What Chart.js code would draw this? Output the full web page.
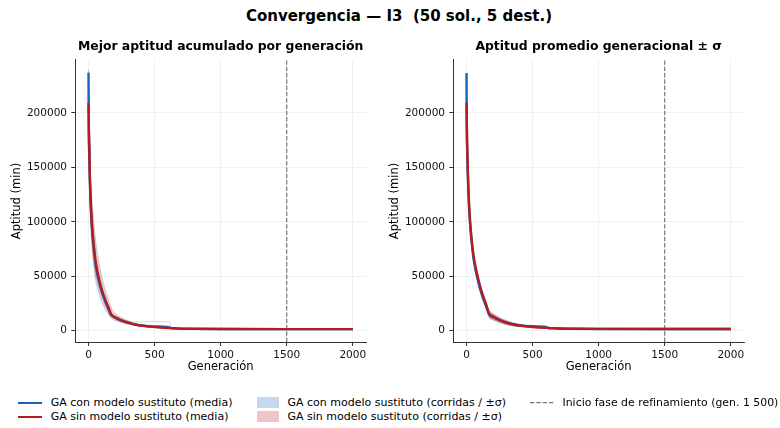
<!DOCTYPE html>
<html lang="es">
<head>
<meta charset="utf-8">
<script src="https://cdn.jsdelivr.net/npm/chart.js@4.4.1/dist/chart.umd.min.js"></script>
<style>
  html, body { margin: 0; padding: 0; background: #fff; }
  body { width: 780px; height: 428px; position: relative; overflow: hidden;
         font-family: "DejaVu Sans", sans-serif; color: #000; }
  #suptitle { position: absolute; left: 0; width: 798px; top: 6px; line-height: 20px;
              text-align: center; font-weight: bold; font-size: 15px; white-space: pre; }
  .panel { position: absolute; top: 0; }
  #leftPanel { left: 0; }
  #rightPanel { left: 378px; }
  .legText { position: absolute; font-size: 11px; line-height: 14px; white-space: nowrap; }
  .sw { position: absolute; }
</style>
</head>
<body>
<div id="suptitle">Convergencia — I3  (50 sol., 5 dest.)</div>
<canvas id="leftPanel" class="panel" width="390" height="380"></canvas>
<canvas id="rightPanel" class="panel" width="390" height="380"></canvas>

<!-- leyenda común -->
<div class="sw" style="left:18px;top:401.7px;width:24px;height:2px;background:#1565C0"></div>
<div class="legText" style="left:50.7px;top:395.7px">GA con modelo sustituto (media)</div>
<div class="sw" style="left:18px;top:415.7px;width:24px;height:2px;background:#B71C1C"></div>
<div class="legText" style="left:50.7px;top:409.7px">GA sin modelo sustituto (media)</div>

<div class="sw" style="left:257px;top:397.2px;width:22px;height:11px;background:rgba(21,101,192,0.25)"></div>
<div class="legText" style="left:287.5px;top:395.7px">GA con modelo sustituto (corridas / ±σ)</div>
<div class="sw" style="left:257px;top:411.2px;width:22px;height:11px;background:rgba(183,28,28,0.25)"></div>
<div class="legText" style="left:287.5px;top:409.7px">GA sin modelo sustituto (corridas / ±σ)</div>

<svg class="sw" style="left:530px;top:398px" width="24" height="10">
  <line x1="0" y1="4.7" x2="24" y2="4.7" stroke="#777" stroke-width="1.2" stroke-dasharray="4.4 1.9"/>
</svg>
<div class="legText" style="left:562.5px;top:395.7px;font-size:10.9px">Inicio fase de refinamiento (gen. 1 500)</div>

<script>
const FONT = '"DejaVu Sans", sans-serif';

// generaciones en las que se leen las curvas medias
const GENS = [0, 2, 5, 10, 15, 20, 30, 40, 50, 60, 75, 100, 125, 150, 170, 200, 250, 300, 350, 400, 500, 600, 620, 650, 700, 800, 1000, 1500, 2000];

// mejor aptitud acumulada (media de corridas)
const BLUE_BEST = [236800, 186000, 163000, 138000, 120000, 106000, 88000, 75000, 64000, 56000, 47000, 35500, 27000, 20000, 14500, 12000, 9300, 7200, 5800, 4800, 3900, 3400, 2300, 2100, 1850, 1650, 1500, 1420, 1380];
const RED_BEST  = [209000, 190000, 168000, 142000, 124000, 110000, 91000, 78000, 67000, 59000, 50000, 38000, 29000, 21500, 15500, 12500, 9500, 7300, 5700, 4600, 3300, 2500, 2400, 2200, 1900, 1700, 1550, 1450, 1400];

// aptitud promedio generacional (media) y desviación
const BLUE_AVG = [236600, 188000, 166000, 143000, 125000, 111000, 93000, 80000, 69000, 61000, 52000, 39500, 30000, 22000, 15000, 12500, 9600, 7400, 5900, 4900, 4000, 3500, 2400, 2200, 1950, 1750, 1600, 1520, 1480];
const RED_AVG  = [209500, 192000, 171000, 147000, 129000, 115000, 96000, 83000, 72000, 64000, 55000, 42000, 32000, 23500, 16000, 13000, 9800, 7500, 5800, 4700, 3400, 2600, 2500, 2300, 2000, 1800, 1650, 1550, 1500];
const BLUE_SD  = [1500, 3000, 4000, 4500, 4800, 5000, 5000, 4800, 4600, 4400, 4200, 4000, 3800, 3600, 3400, 3000, 2600, 2200, 1800, 1500, 1200, 1000, 300, 200, 150, 120, 100, 80, 80];
const RED_SD   = [1200, 3000, 4000, 4500, 4800, 5000, 5200, 5000, 4800, 4600, 4400, 4200, 4000, 3800, 3600, 3200, 2700, 2200, 1700, 1300, 900, 600, 500, 300, 200, 150, 100, 80, 80];

// corridas individuales (mejor acumulado)
const RUN_GENS = [0, 5, 10, 20, 30, 45, 60, 80, 100, 125, 150, 175, 200, 240, 280, 330, 400, 480, 560, 615, 625, 700, 2000];
const BLUE_RUNS = [
  [240000, 178000, 156000, 126000, 108000, 88000, 73000, 59000, 47000, 36000, 27000, 19000, 15500, 12000, 9500, 7400, 5500, 4500, 3900, 3600, 2500, 1900, 1400],
  [233000, 150000, 122000, 88000, 70000, 53000, 42000, 33000, 26000, 19500, 14500, 11000, 9500, 8000, 6800, 5400, 4300, 3600, 3200, 3100, 2200, 1800, 1350],
  [238000, 168000, 146000, 116000, 97000, 79000, 64000, 52000, 41000, 31500, 23500, 16500, 13500, 10800, 8800, 6800, 5100, 4200, 3700, 3500, 2400, 1850, 1380],
  [235000, 156000, 128000, 95000, 78000, 60000, 48000, 38000, 30000, 22500, 17000, 12500, 10800, 8900, 7300, 5800, 4500, 3800, 3400, 3300, 2300, 1850, 1370],
  [237000, 163000, 138000, 106000, 88000, 68000, 56000, 45000, 36000, 28000, 21000, 14500, 12500, 10500, 9000, 8200, 8200, 8200, 8200, 8200, 2200, 1800, 1400]
];
const RED_RUNS = [
  [212000, 182000, 160000, 130000, 112000, 92000, 77000, 62000, 50000, 38500, 28500, 20000, 16000, 12500, 10000, 7500, 5300, 4000, 3200, 2750, 2650, 2000, 1420],
  [206000, 154000, 125000, 91000, 73000, 56000, 45000, 35500, 28000, 21000, 15500, 11500, 9800, 8000, 6700, 5300, 4000, 3100, 2500, 2200, 2150, 1850, 1380],
  [210000, 174000, 150000, 120000, 101000, 82000, 68000, 55000, 44000, 34000, 25000, 17500, 14300, 11300, 9200, 6900, 4900, 3700, 2950, 2600, 2500, 1950, 1400],
  [208000, 160000, 132000, 98000, 80000, 62000, 50000, 40000, 32000, 24000, 18000, 13000, 11000, 8900, 7400, 5800, 4300, 3300, 2700, 2350, 2300, 1900, 1390],
  [209000, 170000, 144000, 112000, 93000, 73000, 60000, 48500, 38500, 29500, 22000, 15500, 12800, 10300, 8600, 6300, 4600, 3500, 2800, 2450, 2400, 1900, 1410]
];

const X_TICKS = [0, 500, 1000, 1500, 2000];
const Y_TICKS = [0, 50000, 100000, 150000, 200000];
const X_MIN = -100, X_MAX = 2100;
const Y_MIN = -10400, Y_MAX = 248600;
const REFINE_GEN = 1500;

const BLUE = '#1565C0';
const RED = '#B71C1C';

function pts(xs, ys) {
  return xs.map((x, i) => ({ x: x, y: ys[i] }));
}

function meanLine(label, ys, color) {
  return { label, data: pts(GENS, ys), borderColor: color, borderWidth: 2.4,
           pointRadius: 0, fill: false, cubicInterpolationMode: 'monotone' };
}

function refineLine() {
  return { label: 'refinamiento', data: [{ x: REFINE_GEN, y: Y_MIN }, { x: REFINE_GEN, y: Y_MAX }],
           borderColor: '#777', borderWidth: 1.2, borderDash: [4.4, 1.9], pointRadius: 0, fill: false };
}

function runLines(runs, color) {
  return runs.map((r, i) => ({ label: 'corrida ' + (i + 1), data: pts(RUN_GENS, r), borderColor: color,
                               borderWidth: 0.9, pointRadius: 0, fill: false, tension: 0 }));
}

function band(avg, sd, color) {
  const upper = avg.map((v, i) => v + sd[i]);
  const lower = avg.map((v, i) => v - sd[i]);
  return [
    { label: '+σ', data: pts(GENS, upper), borderWidth: 0, pointRadius: 0, backgroundColor: color,
      fill: '+1', cubicInterpolationMode: 'monotone' },
    { label: '-σ', data: pts(GENS, lower), borderWidth: 0, pointRadius: 0, fill: false,
      cubicInterpolationMode: 'monotone' }
  ];
}

function options(titleText) {
  return {
    responsive: false,
    animation: false,
    events: [],
    layout: { padding: { left: 0, right: 24, top: 0, bottom: 0 } },
    plugins: {
      legend: { display: false },
      tooltip: { enabled: false },
      title: {
        display: true, text: titleText, color: '#000', fullSize: false,
        font: { family: FONT, size: 12.4, weight: 'bold', lineHeight: 1.2 },
        padding: { top: 39.6, bottom: 5.5 }
      }
    },
    scales: {
      x: {
        type: 'linear', min: X_MIN, max: X_MAX,
        afterBuildTicks: s => { s.ticks = X_TICKS.map(v => ({ value: v })); },
        afterFit: s => { s.height = 38; },
        ticks: { color: '#111', font: { family: FONT, size: 10.5 }, padding: 3, maxRotation: 0,
                 callback: v => String(v) },
        grid: { color: 'rgba(0,0,0,0.07)', lineWidth: 0.8, tickLength: 4, tickColor: '#333', tickWidth: 1 },
        border: { display: true, color: '#333', width: 1 },
        title: { display: true, text: 'Generación', color: '#000',
                 font: { family: FONT, size: 11.5, lineHeight: 1.2 }, padding: { top: 0, bottom: 6 } }
      },
      y: {
        type: 'linear', min: Y_MIN, max: Y_MAX,
        afterBuildTicks: s => { s.ticks = Y_TICKS.map(v => ({ value: v })); },
        afterFit: s => { s.width = 75.3; },
        ticks: { color: '#111', font: { family: FONT, size: 10.5 }, padding: 4.3,
                 callback: v => String(v) },
        grid: { color: 'rgba(0,0,0,0.07)', lineWidth: 0.8, tickLength: 4, tickColor: '#333', tickWidth: 1 },
        border: { display: true, color: '#333', width: 1 },
        title: { display: true, text: 'Aptitud (min)', color: '#000',
                 font: { family: FONT, size: 11.5, lineHeight: 1.2 }, padding: { top: 10, bottom: 0 } }
      }
    }
  };
}

// panel izquierdo: mejor acumulado + corridas
new Chart(document.getElementById('leftPanel'), {
  type: 'line',
  data: {
    datasets: [
      meanLine('GA sin modelo sustituto (media)', RED_BEST, RED),
      meanLine('GA con modelo sustituto (media)', BLUE_BEST, BLUE),
      refineLine(),
      ...runLines(RED_RUNS, 'rgba(183,28,28,0.25)'),
      ...runLines(BLUE_RUNS, 'rgba(21,101,192,0.25)')
    ]
  },
  options: options('Mejor aptitud acumulado por generación')
});

// panel derecho: promedio generacional ± σ
new Chart(document.getElementById('rightPanel'), {
  type: 'line',
  data: {
    datasets: [
      meanLine('GA sin modelo sustituto (media)', RED_AVG, RED),
      meanLine('GA con modelo sustituto (media)', BLUE_AVG, BLUE),
      refineLine(),
      ...band(RED_AVG, RED_SD, 'rgba(183,28,28,0.28)'),
      ...band(BLUE_AVG, BLUE_SD, 'rgba(21,101,192,0.3)')
    ]
  },
  options: options('Aptitud promedio generacional ± σ')
});
</script>
</body>
</html>
